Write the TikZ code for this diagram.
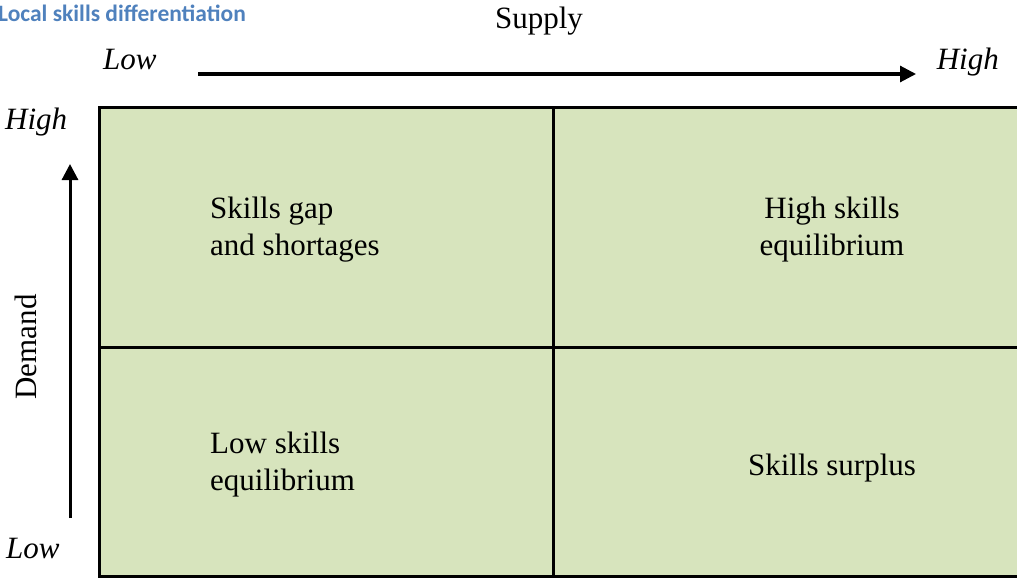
\documentclass[tikz,border=0pt]{standalone}
\usepackage{fontspec}
\setmainfont{Liberation Serif}
\newfontfamily\titlefont{Carlito}
\usetikzlibrary{arrows.meta}
\definecolor{cellfill}{HTML}{D7E4BD}
\definecolor{titleblue}{HTML}{4F81BD}
\begin{document}
\begin{tikzpicture}[x=1pt,y=-1pt,
  lbl/.style={inner sep=0pt,font=\fontsize{31}{37}\selectfont},
  axislbl/.style={lbl,font=\fontsize{31}{37}\selectfont\itshape},
  gridline/.style={line width=3pt,line cap=rect},
  axisarrow/.style={line width=3pt,-{Triangle[length=16pt,width=16pt]}}]
\useasboundingbox (0,0) rectangle (1017,578);
\clip (0,0) rectangle (1017,578);

% title
\node[inner sep=0pt,anchor=base west,text=titleblue,font=\titlefont\bfseries\fontsize{23.5}{28}\selectfont] (title) at (-2,22) {Local skills differentiation};

% quadrant grid
\fill[cellfill] (99,107) rectangle (1040,576);
\draw[gridline] (99,107) rectangle (1040,576);
\draw[gridline] (553,107) -- (553,576);
\draw[gridline] (99,347) -- (1040,347);

% supply axis
\node[lbl,anchor=base] (supply) at (539,29) {Supply};
\node[axislbl,anchor=base west] (slow) at (103,70) {Low};
\node[axislbl,anchor=base east] (shigh) at (999,70) {High};
\coordinate (sa) at (198,74);
\coordinate (sb) at (916,74);
\draw[axisarrow] (sa) -- (sb);

% demand axis
\node[lbl,anchor=base,rotate=90] (demand) at (36,347) {Demand};
\node[axislbl,anchor=base west] (dhigh) at (5,129) {High};
\node[axislbl,anchor=base west] (dlow) at (6,558) {Low};
\coordinate (da) at (70,518);
\coordinate (db) at (70,164);
\draw[axisarrow] (da) -- (db);

% quadrant labels
\node[lbl,anchor=base west] (gap) at (210,218)
  {\begin{tabular}[t]{@{}l@{}}Skills gap\\and shortages\end{tabular}};
\node[lbl,anchor=base] (highsk) at (832,218)
  {\begin{tabular}[t]{@{}c@{}}High skills\\equilibrium\end{tabular}};
\node[lbl,anchor=base west] (lowsk) at (210,453)
  {\begin{tabular}[t]{@{}l@{}}Low skills\\equilibrium\end{tabular}};
\node[lbl,anchor=base] (surplus) at (832,475) {Skills surplus};
\end{tikzpicture}
\end{document}
